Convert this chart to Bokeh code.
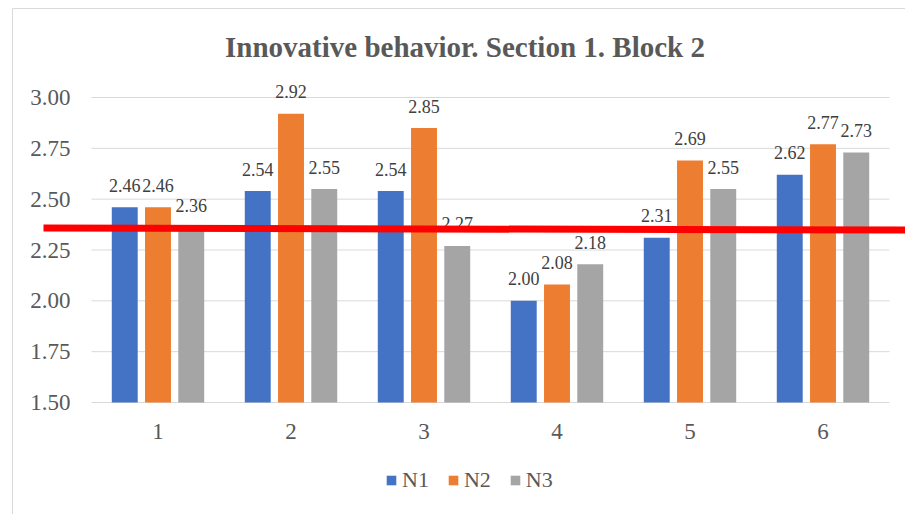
from bokeh.plotting import figure
from bokeh.models import Range1d, ColumnDataSource, Legend, LegendItem
from bokeh.core.properties import value
from bokeh.embed import file_html
from bokeh.resources import INLINE

# ---- data ----
categories = ["1", "2", "3", "4", "5", "6"]
series_names = ["N1", "N2", "N3"]
n1 = [2.46, 2.54, 2.54, 2.00, 2.31, 2.62]
n2 = [2.46, 2.92, 2.85, 2.08, 2.69, 2.77]
n3 = [2.36, 2.55, 2.27, 2.18, 2.55, 2.73]
y_ticks = [1.50, 1.75, 2.00, 2.25, 2.50, 2.75, 3.00]
ref_line_y = [2.358, 2.348]
title_text = "Innovative behavior. Section 1. Block 2"

colors = ["#4472C4", "#ED7D31", "#A5A5A5"]
offsets = [-0.25, 0.0, 0.25]
FONT = "Liberation Serif"

# ---- layout geometry (pixels) ----
W, H = 905, 514
PL, PR, PT, PB = 91, 889, 97, 402          # plot area edges on the canvas
ncat = len(categories)
ymin, ymax = y_ticks[0], y_ticks[-1]
px_x = (PR - PL) / ncat
px_y = (PB - PT) / (ymax - ymin)

x_range = Range1d(-PL / px_x, ncat + (W - PR) / px_x)
y_range = Range1d(ymin - (H - PB) / px_y, ymax + PT / px_y)

p = figure(x_range=x_range, y_range=y_range, width=W, height=H,
           output_backend="svg", toolbar_location=None,
           x_axis_location=None, y_axis_location=None,
           min_border=0, min_border_left=0, min_border_right=0,
           min_border_top=0, min_border_bottom=0)
p.outline_line_color = None
p.xgrid.visible = False
p.ygrid.visible = False
p.background_fill_color = "white"
p.border_fill_color = "white"

def sx(px):   # canvas x pixel -> data x
    return (px - PL) / px_x

def sy(py):   # canvas y pixel -> data y
    return ymax - (py - PT) / px_y

# chart border (left and top edges)
p.line(x=[sx(12), sx(12), sx(W + 20)], y=[sy(H + 20), sy(8), sy(8)],
       line_color="#d9d9d9", line_width=1)

# gridlines (1.50 acts as the category axis line)
p.segment(x0=[0] * len(y_ticks), x1=[ncat] * len(y_ticks), y0=y_ticks, y1=y_ticks,
          line_color="#d9d9d9", line_width=1)

# y tick labels
p.text(x=[0] * len(y_ticks), y=y_ticks, text=["%.2f" % t for t in y_ticks],
       x_offset=-21, y_offset=0, text_align="right", text_baseline="alphabetic",
       text_font=value(FONT), text_font_size="23px", text_color="#595959")

# x tick labels
xc = [i + 0.5 for i in range(ncat)]
p.text(x=xc, y=[ymin] * ncat, text=categories, y_offset=29,
       text_align="center", text_baseline="alphabetic",
       text_font=value(FONT), text_font_size="23px", text_color="#595959")

# bars + data labels
renderers = []
for name, vals, off, col in zip(series_names, [n1, n2, n3], offsets, colors):
    xs = [i + 0.5 + off for i in range(ncat)]
    src = ColumnDataSource(dict(x=xs, top=vals, t=["%.2f" % v for v in vals]))
    r = p.vbar(x="x", top="top", bottom=ymin, width=0.195, source=src,
               fill_color=col, line_color=None)
    renderers.append(r)
    p.text(x="x", y="top", text="t", source=src, y_offset=-22,
           text_align="center", text_baseline="alphabetic",
           text_font=value(FONT), text_font_size="18px", text_color="#404040")

# title
p.text(x=[sx(464.5)], y=[ymax], text=[title_text], y_offset=-51,
       text_align="center", text_baseline="alphabetic",
       text_font=value(FONT), text_font_style="bold", text_font_size="29px",
       text_color="#595959")

# red reference line
p.line(x=[sx(43), sx(W + 10)], y=ref_line_y, line_color="#ff0000", line_width=7)

# legend
legend = Legend(items=[LegendItem(label=n, renderers=[r]) for n, r in zip(series_names, renderers)],
                orientation="horizontal", location=(385, H - 493),
                glyph_width=12, glyph_height=12, label_standoff=5, spacing=18,
                padding=0, margin=0, border_line_color=None, background_fill_alpha=0,
                label_text_font=FONT, label_text_font_size="22px", label_text_color="#595959")
p.add_layout(legend)

open("out.html", "w").write(file_html(p, INLINE))
